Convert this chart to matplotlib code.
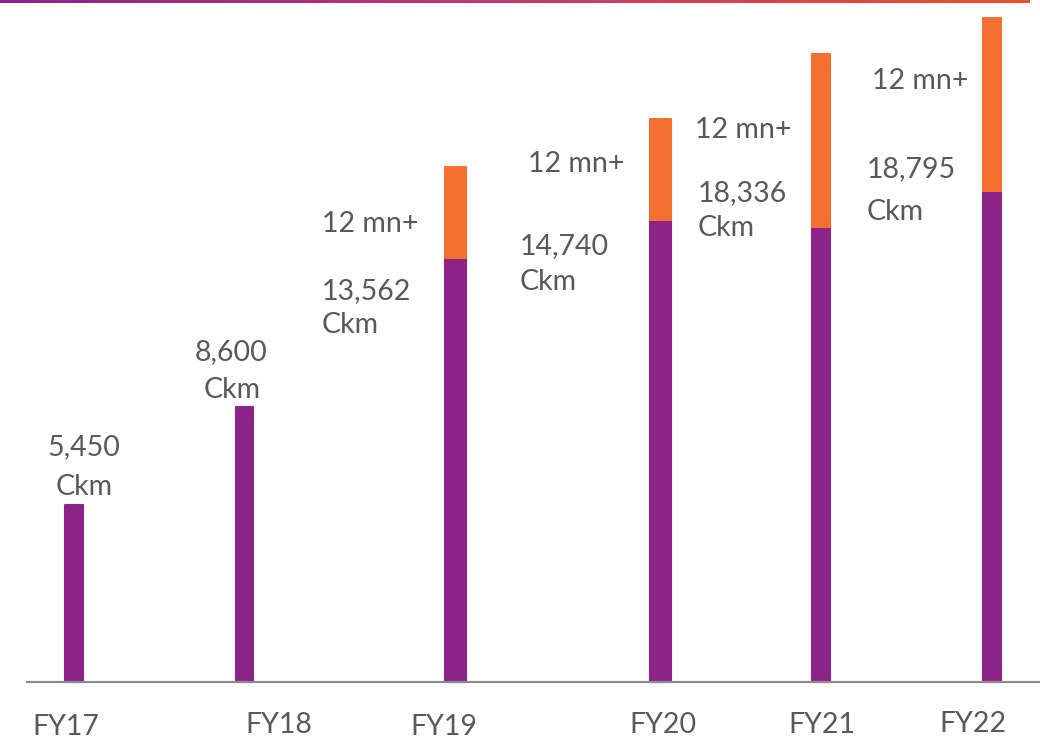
import numpy as np
import matplotlib.pyplot as plt
from matplotlib.colors import LinearSegmentedColormap

# data (bar heights are in picture units, the chart is not to scale)
years = ["FY17", "FY18", "FY19", "FY20", "FY21", "FY22"]
ckm_labels = ["5,450", "8,600", "13,562", "14,740", "18,336", "18,795"]
purple_h = [177, 275, 424, 462, 455, 491]
orange_h = [0, 0, 91, 101, 173, 173]
extra_labels = ["", "", "12 mn+", "12 mn+", "12 mn+", "12 mn+"]

# layout
bar_x = [73.5, 244, 455, 660, 821, 992]
bar_w = [18, 17, 21, 21, 18, 18]
year_pos = [(66, 735), (279, 733), (444, 735), (663, 733), (822, 733), (973, 732)]
num_pos = [(84, 455, "center"), (231, 360, "center"), (322, 299, "left"),
           (520, 254, "left"), (698, 201, "left"), (867, 177, "left")]
ckm_pos = [(84, 495), (232, 398), (322, 333), (520, 290), (698, 236), (867, 220)]
extra_pos = [None, None, (322, 232), (528, 172), (695, 138), (872, 89)]

PURPLE = "#8b2388"
ORANGE = "#f37032"
GREY_TXT = "#595959"
BASE = 682

plt.rcParams['font.family'] = ['Lato', 'DejaVu Sans']

fig = plt.figure(figsize=(10.4, 7.38), dpi=100)
ax = fig.add_axes([0, 0, 1, 1])


def py(y):
    # pixel row -> data y
    return BASE - y


ax.bar(bar_x, purple_h, width=bar_w, bottom=0, color=PURPLE, edgecolor=PURPLE,
       linewidth=1.5, joinstyle="round", zorder=2)
idx = [i for i, h in enumerate(orange_h) if h > 0]
ax.bar([bar_x[i] for i in idx], [orange_h[i] for i in idx],
       width=[bar_w[i] for i in idx], bottom=[purple_h[i] for i in idx],
       color=ORANGE, edgecolor=ORANGE, linewidth=1.5, joinstyle="round", zorder=2)

ax.plot([26, 1040], [0, 0], color="#8c8c8c", lw=1.6, zorder=3, solid_capstyle="butt")

# gradient rule along the top
grad = np.linspace(0, 1, 256).reshape(1, -1)
cmap = LinearSegmentedColormap.from_list("topline", [PURPLE, "#c43a6e", "#f04e2b"])
ax.imshow(grad, cmap=cmap, aspect="auto", extent=[0, 1030, py(3), py(0)], zorder=4)
ax.set_xlim(0, 1040)
ax.set_ylim(BASE - 738, BASE)
ax.axis("off")

fs = 20.5
for i, yr in enumerate(years):
    x, y = year_pos[i]
    ax.text(x, py(y), yr, ha="center", va="baseline", fontsize=fs, color=GREY_TXT)
    x, y, ha = num_pos[i]
    ax.text(x, py(y), ckm_labels[i], ha=ha, va="baseline", fontsize=fs, color=GREY_TXT)
    x, y = ckm_pos[i]
    ax.text(x, py(y), "Ckm", ha=ha, va="baseline", fontsize=fs, color=GREY_TXT)
    if extra_pos[i] is not None:
        x, y = extra_pos[i]
        ax.text(x, py(y), extra_labels[i], ha="left", va="baseline", fontsize=fs,
                color=GREY_TXT)

fig.savefig("out.png", dpi=100)
